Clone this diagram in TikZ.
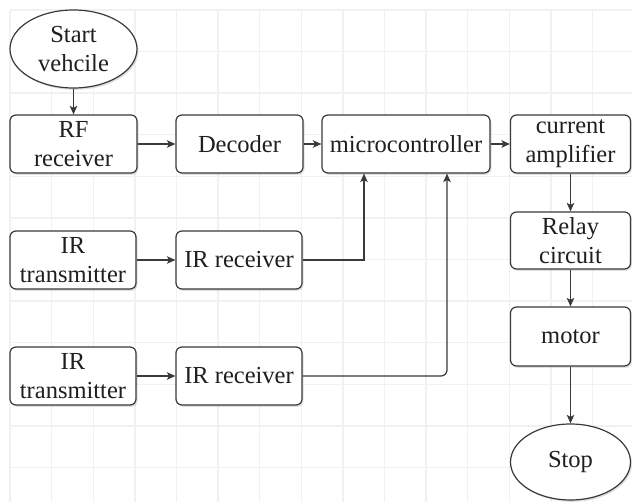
\documentclass[tikz,border=0pt]{standalone}
\usepackage{fontspec}
\setmainfont{Liberation Serif}
\usetikzlibrary{shapes.geometric,arrows.meta,shadows}
\definecolor{lineC}{HTML}{3A3A3A}
\definecolor{gridC}{HTML}{F1F1F1}
\tikzset{
  blk/.style={draw=lineC, line width=1.2pt, rounded corners=6pt, fill=white,
    drop shadow={opacity=0.25, shadow xshift=1.5pt, shadow yshift=-1.8pt},
    inner sep=0pt, align=center, text=black!88,
    font=\fontsize{24.5}{29}\selectfont},
  ell/.style={blk, ellipse, rounded corners=0pt},
  con/.style={draw=lineC, line width=1.2pt, -{Stealth[length=8.5pt,width=7.5pt,inset=2pt]}},
}
\begin{document}
\begin{tikzpicture}[x=1pt,y=-1pt]
\useasboundingbox (0,0) rectangle (632,502);
\fill[white] (0,0) rectangle (632,502);
\foreach \i in {0,...,15} {
  \draw[gridC, line width=1.4pt] ({10+41.6*\i},10) -- ({10+41.6*\i},502);
}
\foreach \j in {0,...,11} {
  \draw[gridC, line width=1.4pt] (10,{10+41.6*\j}) -- (632,{10+41.6*\j});
}
\node[ell, minimum width=127, minimum height=78] (start) at (73.5,49) {Start\\vehcile};
\node[blk, minimum width=127, minimum height=58] (rf) at (73.5,144) {RF\\receiver};
\node[blk, minimum width=127, minimum height=58] (dec) at (239.5,144) {Decoder};
\node[blk, minimum width=168, minimum height=58] (mcu) at (406,144) {microcontroller};
\node[blk, minimum width=120, minimum height=58] (amp) at (570.5,144) {current\\amplifier};
\node[blk, minimum width=120, minimum height=57] (relay) at (570.5,240.5) {Relay\\circuit};
\node[blk, minimum width=120, minimum height=59] (motor) at (570.5,336.5) {motor};
\node[ell, minimum width=120, minimum height=76] (stop) at (570.5,462) {Stop};
\node[blk, minimum width=126, minimum height=58] (irt1) at (73,260) {IR\\transmitter};
\node[blk, minimum width=126, minimum height=58] (irr1) at (239,260) {IR receiver};
\node[blk, minimum width=126, minimum height=58] (irt2) at (73,376) {IR\\transmitter};
\node[blk, minimum width=126, minimum height=58] (irr2) at (239,376) {IR receiver};
\draw[con] (start) -- (rf);
\draw[con] (rf) -- (dec);
\draw[con] (dec) -- (mcu);
\draw[con] (mcu) -- (amp);
\draw[con] (amp) -- (relay);
\draw[con] (relay) -- (motor);
\draw[con] (motor) -- (stop);
\draw[con] (irt1) -- (irr1);
\draw[con] (irt2) -- (irr2);
\draw[con] (irr1.east) -| (mcu.south -| 364,0);
\draw[con, rounded corners=6pt] (irr2.east) -| (mcu.south -| 447,0);
\end{tikzpicture}
\end{document}
